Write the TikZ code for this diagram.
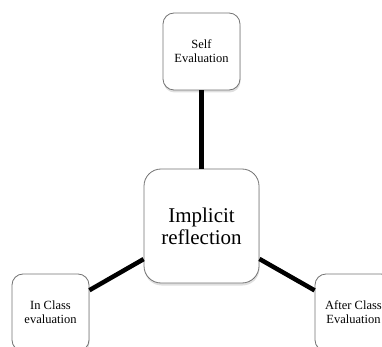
\documentclass[tikz,border=0pt]{standalone}
\usepackage{fontspec}
\setmainfont{Liberation Serif}
\usetikzlibrary{shadows}

\tikzset{
  smallbox/.style={draw=black!55, line width=0.8pt, fill=white, rounded corners=11pt,
    minimum width=77pt, minimum height=77pt, inner sep=0pt, align=center,
    font=\fontsize{12.5}{14}\selectfont,
    drop shadow={opacity=0.25, shadow xshift=0.5pt, shadow yshift=-2.5pt}},
  bigbox/.style={smallbox, rounded corners=17pt, minimum width=115pt, minimum height=114pt,
    font=\fontsize{21}{22}\selectfont},
  link/.style={line width=4.5pt, black}
}

\begin{document}
\begin{tikzpicture}[x=1pt, y=-1pt]

\useasboundingbox (0,0) rectangle (382,347);
\clip (0,0) rectangle (382,347);

% Boxes
\node[bigbox] (implicit) at (201.5,226) {Implicit\\reflection};
\node[smallbox] (self) at (201.5,51.5) {Self\\Evaluation};
\node[smallbox] (inclass) at (50.5,312.5) {In Class\\evaluation};
\node[smallbox] (afterclass) at (353.5,312.5) {After Class\\Evaluation};

% Links
\draw[link] (implicit) -- (self);
\draw[link] (implicit) -- (inclass);
\draw[link] (implicit) -- (afterclass);

\end{tikzpicture}
\end{document}
